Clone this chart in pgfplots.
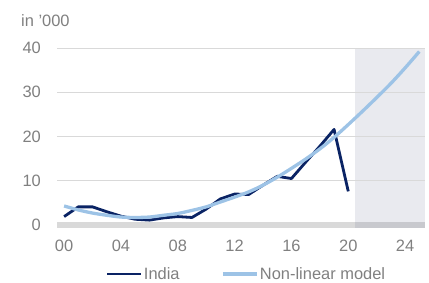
\documentclass[border=0pt]{standalone}
\usepackage{fontspec}
\setmainfont{Liberation Sans}
\usepackage{pgfplots}
\pgfplotsset{compat=1.18}
\definecolor{navy}{RGB}{10,35,100}
\definecolor{lblue}{RGB}{157,195,230}
\definecolor{shadecol}{RGB}{233,234,239}
\definecolor{gridcol}{RGB}{217,217,217}
\definecolor{basecol}{RGB}{217,217,217}
\definecolor{basedark}{RGB}{200,201,206}
\definecolor{textgray}{RGB}{128,128,128}
\newcommand{\chartfont}{\fontsize{16.5}{19}\selectfont}
\begin{document}
\begin{tikzpicture}
\begin{axis}[
  set layers,
  scale only axis,
  width=368bp, height=177bp,
  xmin=-0.5, xmax=25.4, ymin=0, ymax=40,
  clip=false,
  axis line style={draw=none},
  major tick length=0pt,
  xtick={0,4,8,12,16,20,24},
  xticklabels={00,04,08,12,16,20,24},
  ytick={0,10,20,30,40},
  ymajorgrids,
  grid style={color=gridcol, line width=1bp},
  /pgf/number format/assume math mode=true,
  tick label style={font=\chartfont, text=textgray},
  xticklabel style={inner sep=0pt, anchor=north, yshift=-15bp},
  yticklabel style={inner sep=0pt, anchor=east, xshift=-16bp},
  legend columns=2,
  legend style={at={(0.514,-0.277)}, anchor=center, draw=none, fill=none,
    font=\chartfont, text=textgray,
    nodes={inner sep=1.5bp},
    /tikz/every even column/.append style={column sep=40bp}},
  legend image code/.code={\draw[#1] (0bp,0bp) -- (34bp,0bp);},
]
\begin{pgfonlayer}{axis background}
\fill[shadecol] (axis cs:20.5,0) rectangle (axis cs:25.4,40);
\end{pgfonlayer}
\draw[basecol, line width=5bp] (axis cs:-0.5,0) -- (axis cs:20.5,0);
\draw[basedark, line width=5bp] (axis cs:20.5,0) -- (axis cs:25.4,0);
\addplot[navy, line width=2.8bp, line join=round] coordinates {
(0,1.9) (1,4.1) (2,4.1) (3,3.0) (4,2.0) (5,1.3) (6,1.1) (7,1.6) (8,1.9) (9,1.7)
(10,3.6) (11,5.9) (12,7.0) (13,6.9) (14,9.0) (15,11.0) (16,10.5) (17,14.2)
(18,17.8) (19,21.6) (20,7.6)};
\addlegendentry{India}
\addplot[lblue, line width=3.3bp, smooth] coordinates {
(0,4.3) (1,3.4) (2,2.7) (3,2.2) (4,1.8) (5,1.7) (6,1.8) (7,2.2) (8,2.6) (9,3.3)
(10,4.1) (11,5.2) (12,6.3) (13,7.5) (14,9.0) (15,10.8) (16,12.8) (17,14.9)
(18,17.2) (19,19.8) (20,22.7) (21,25.7) (22,28.8) (23,32.0) (24,35.5) (25,39.2)};
\addlegendentry{Non-linear model}
\end{axis}
\node[anchor=base west, inner sep=0pt, font=\chartfont, text=textgray]
  at ([xshift=-36bp, yshift=21.3bp] current axis.north west) {in '000};
\pgfresetboundingbox
\path (current axis.south west) ++(-57bp,-58bp) rectangle ++(429bp,283bp);
\end{tikzpicture}
\end{document}
